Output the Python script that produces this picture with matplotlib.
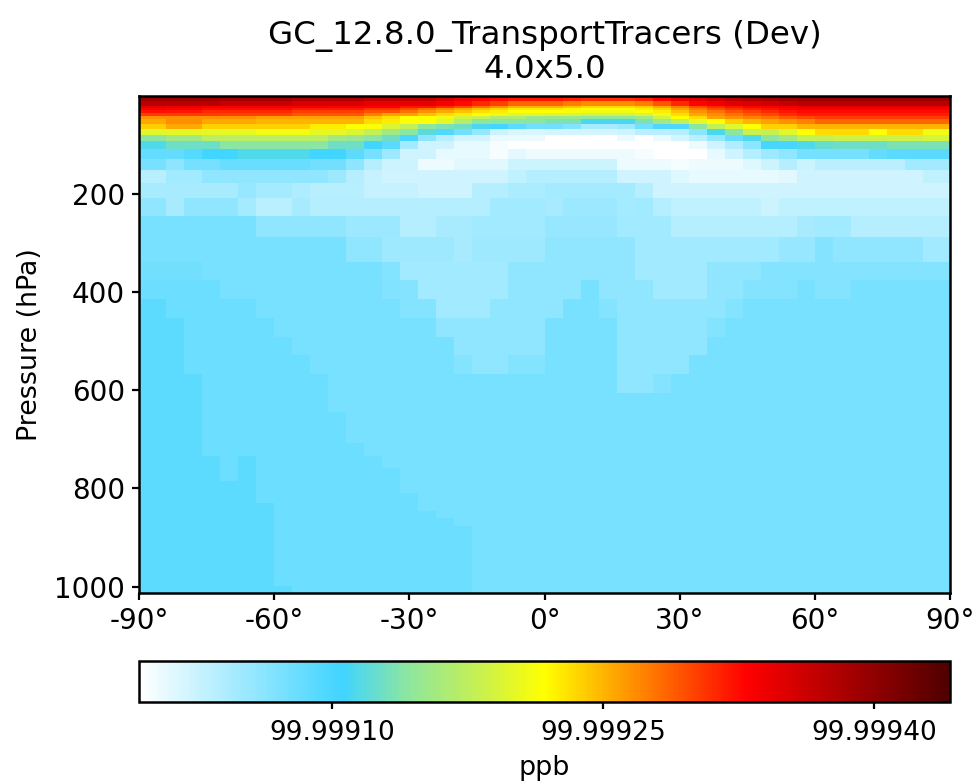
import numpy as np
import matplotlib
matplotlib.use("Agg")
import matplotlib.pyplot as plt
from matplotlib.colors import LinearSegmentedColormap
from matplotlib.ticker import FormatStrFormatter

# latitude cell edges, half cells at the poles
lat_edges = [-90, -88, -84, -80, -76, -72, -68, -64, -60, -56, -52, -48, -44, -40, -36, -32,
             -28, -24, -20, -16, -12, -8, -4, 0, 4, 8, 12, 16, 20, 24, 28, 32, 36, 40, 44, 48,
             52, 56, 60, 64, 68, 72, 76, 80, 84, 88, 90]

# pressure cell edges (hPa), top of the atmosphere first
p_edges = [0.01, 1.65, 4.07, 9.29, 19.79, 23.73, 28.37, 33.81, 40.18, 47.64, 56.39, 66.60,
           78.51, 92.37, 108.66, 127.84, 150.39, 176.93, 208.15, 244.88, 288.08, 337.50,
           376.0, 414.2, 452.4, 490.7, 528.9, 567.2, 605.4, 643.7, 682.0, 707.69, 733.15,
           758.62, 784.08, 809.55, 829.92, 845.21, 860.49, 875.77, 891.05, 906.34, 921.62,
           936.91, 952.19, 967.47, 982.76, 998.05, 1013.25]

# zonal mean, in 1e-6 ppb above 99.999, one list per pressure level
r01 = [405]*13 + [385]*4 + [360, 350, 342, 336] + [330]*9 + [340, 350, 362, 375, 385, 392, 398] + [410]*9
r02 = [400]*5 + [395]*4 + [390]*4 + [380]*4 + [360, 350, 340, 335] + [330]*3 + [328] + [326]*3 + [328, 338, 352, 368, 378, 385, 392, 396, 400] + [405]*9
r03 = [390]*5 + [385]*4 + [378]*4 + [368]*4 + [355, 342, 332, 326] + [320]*3 + [315] + [310]*3 + [315, 328, 340, 352, 362, 372, 378, 384, 388] + [392]*9
r04 = [375]*5 + [365]*4 + [355]*4 + [345]*4 + [335, 325, 312, 300] + [285]*3 + [275] + [268]*3 + [275, 292, 312, 328, 338, 348, 355, 362, 368] + [375]*9
r05 = [345]*2 + [340]*2 + [335]*7 + [330]*4 + [320]*2 + [310, 295, 280, 265] + [250]*3 + [243] + [235]*3 + [240, 255, 275, 295, 312, 322, 328, 333, 338] + [345]*9
r06 = [332]*2 + [330]*2 + [326]*5 + [318]*4 + [308]*2 + [298, 282, 270, 258, 247, 238] + [228]*3 + [222] + [218]*3 + [225, 238, 258, 278, 296, 308, 316, 322, 328] + [335]*9
r07 = [322]*2 + [320]*2 + [312]*5 + [303]*4 + [293]*2 + [280, 265, 255, 245, 232, 225] + [217]*3 + [212] + [207]*3 + [215, 225, 245, 265, 280, 293, 303, 312, 320] + [325]*9
r08 = [302]*5 + [300]*4 + [290]*4 + [272] + [258]*2 + [245, 232, 225, 217, 205] + [197]*2 + [193]*2 + [188]*3 + [193, 208, 232, 255, 268, 280, 290, 297, 310] + [316]*9
r09 = [265]*7 + [258]*6 + [245, 233, 217, 217, 208, 188, 182] + [165]*2 + [150]*3 + [145]*3 + [155, 188, 217, 233, 258, 265, 272, 280, 290, 297] + [303]*8
r10 = [256]*2 + [268]*2 + [255]*3 + [250]*6 + [232, 225] + [217]*2 + [200, 170] + [141]*4 + [135]*2 + [112]*3 + [135, 155, 178, 200, 217, 240, 250, 258, 265, 272] + [285]*8
r11 = [240]*2 + [255]*2 + [238]*6 + [226]*2 + [217, 215, 193, 178, 143, 135, 128, 112, 105, 88, 77, 77, 68] + [45]*2 + [52, 77] + [98]*2 + [141, 178, 197, 217] + [238]*2 + [250]*9
r12 = [197]*2 + [200]*5 + [210]*3 + [200]*2 + [193, 178, 155, 141, 118, 95, 77, 57, 25] + [16]*2 + [20]*4 + [22, 35, 35, 38, 62, 112, 141, 183, 180, 197, 217] + [233]*3 + [217] + [233]*2 + [208]*2
r13 = [141]*2 + [155]*2 + [173]*7 + [155, 150, 141, 128, 100, 60, 38] + [22]*2 + [7]*3 + [-7]*4 + [7, -7, 7, 20, 35, 57, 82, 114, 141, 155] + [178]*2 + [185]*5 + [192]*2
r14 = [114]*2 + [128]*3 + [141]*6 + [128]*2 + [105, 90, 49] + [22]*2 + [8]*2 + [-1] + [-7]*10 + [4, 22, 39, 62, 100, 100, 114, 124, 128, 128, 128, 135, 135, 135, 135]
r15 = [85]*3 + [93] + [105]*2 + [113]*4 + [105]*2 + [88, 75, 50] + [22]*2 + [8]*3 + [-1, 9] + [5]*6 + [0] + [-7]*3 + [8, 22, 37, 50, 58] + [75]*4 + [85] + [90]*4
r16 = [72]*2 + [60] + [74]*2 + [82]*5 + [77]*2 + [60, 37] + [24]*2 + [4]*2 + [12]*3 + [23]*6 + [5]*3 + [-1] + [5]*3 + [13, 23, 37, 25] + [34]*5 + [49]*3
r17 = [36]*2 + [48]*2 + [58]*7 + [52, 37, 28] + [22]*7 + [30, 37] + [37]*4 + [22]*3 + [13] + [8]*5 + [12] + [22]*7 + [30]*2
r18 = [44]*6 + [56] + [46]*2 + [41] + [36]*3 + [28]*3 + [22]*3 + [37]*2 + [43]*2 + [46]*5 + [37] + [22]*17
r19 = [58]*2 + [44] + [58]*3 + [46] + [34]*2 + [44] + [37]*10 + [49]*3 + [44] + [52]*3 + [46, 48, 37] + [30]*5 + [23] + [30]*10
r20 = [72]*7 + [58]*5 + [51]*3 + [37]*2 + [44]*2 + [49]*4 + [56]*4 + [49]*3 + [37]*7 + [44] + [49]*2 + [37]*6
r21 = [72]*12 + [58]*2 + [50]*4 + [44] + [50]*4 + [58]*5 + [49]*8 + [55]*2 + [66] + [58]*5 + [49]*2
r22 = [76]*4 + [72]*10 + [66] + [49]*6 + [58]*2 + [58]*5 + [49]*4 + [58]*3 + [66]*11
r23 = [80]*5 + [72]*9 + [67, 65] + [49]*5 + [58]*4 + [72] + [58]*3 + [49]*3 + [58]*2 + [66]*3 + [72] + [66]*2 + [72]*6
r24 = [88]*2 + [80]*5 + [72]*8 + [65]*2 + [49]*3 + [58]*4 + [72]*2 + [65] + [58]*6 + [65] + [72]*12
r25 = [88]*3 + [80]*5 + [72]*9 + [58]*6 + [72]*4 + [58]*5 + [65] + [72]*13
r26 = [88]*3 + [80]*6 + [72]*9 + [58]*5 + [72]*4 + [58]*5 + [72]*14
r27 = [88]*3 + [80]*7 + [72]*8 + [65] + [58]*2 + [65]*2 + [72]*4 + [58]*4 + [72]*15
r28 = [88]*4 + [80]*7 + [72]*16 + [58]*2 + [65] + [72]*16
r29 = [88]*4 + [80]*7 + [72]*35
r30 = [88]*4 + [80]*8 + [72]*34
r31 = [88]*4 + [80]*8 + [72]*34
r32 = [88]*4 + [80]*9 + [72]*33
r33 = [88]*5 + [80] + [88] + [80]*7 + [72]*32
r34 = [88]*5 + [80] + [88] + [80]*8 + [72]*31
r35 = [88]*7 + [80]*8 + [72]*31
r36 = [88]*7 + [80]*9 + [72]*30
r37 = [88]*8 + [80]*8 + [72]*30
r38 = [88]*8 + [80]*9 + [72]*29
r39 = [88]*8 + [80]*10 + [72]*28
r40 = [88]*8 + [80]*11 + [72]*27
r41 = [88]*8 + [80]*11 + [72]*27
r42 = [88]*8 + [80]*11 + [72]*27
r43 = [88]*8 + [80]*11 + [72]*27
r44 = [88]*8 + [80]*11 + [72]*27
r45 = [88]*8 + [80]*11 + [72]*27
r46 = [88]*8 + [80]*11 + [72]*27
r47 = [88]*8 + [80]*11 + [72]*27
r48 = [88]*9 + [80]*10 + [72]*27

levels = [r01, r02, r03, r04, r05, r06, r07, r08, r09, r10, r11, r12, r13, r14, r15, r16,
          r17, r18, r19, r20, r21, r22, r23, r24, r25, r26, r27, r28, r29, r30, r31, r32,
          r33, r34, r35, r36, r37, r38, r39, r40, r41, r42, r43, r44, r45, r46, r47, r48]

lat_ticks = [-90, -60, -30, 0, 30, 60, 90]
p_ticks = [200, 400, 600, 800, 1000]
cbar_ticks = [99.99910, 99.99925, 99.99940]

conc = 99.999 + np.array(levels) * 1e-6

cmap = LinearSegmentedColormap.from_list("WhBlGrYlRd", [
    (0.0, "#ffffff"), (0.25, "#40d4ff"), (0.33, "#8ce6a0"), (0.42, "#c8f050"),
    (0.5, "#ffff00"), (0.625, "#ff8000"), (0.75, "#ff0000"), (1.0, "#500000")])

W, H = 976, 783
fig = plt.figure(figsize=(W / 200, H / 200), dpi=200)
ax = fig.add_axes([139 / W, 1 - 593 / H, 811 / W, 497 / H])
mesh = ax.pcolormesh(lat_edges, p_edges, conc, cmap=cmap, vmin=99.998993, vmax=99.999442)
ax.set_ylim(1013.25, 0.01)
ax.set_xlim(-90, 90)
ax.set_xticks(lat_ticks)
ax.set_xticklabels([str(t) + "°" for t in lat_ticks])
ax.set_yticks(p_ticks)
ax.set_ylabel("Pressure (hPa)", fontsize=9.7, labelpad=4)
ax.tick_params(labelsize=10, width=0.8, length=2.6, pad=2.5)
ax.set_title("GC_12.8.0_TransportTracers (Dev)\n4.0x5.0", fontsize=11.7, pad=6.5, linespacing=1.1)
for s in ax.spines.values():
    s.set_linewidth(0.9)

cax = fig.add_axes([139 / W, 1 - 702 / H, 811 / W, 41 / H])
cb = fig.colorbar(mesh, cax=cax, orientation="horizontal")
cb.set_ticks(cbar_ticks)
cb.ax.xaxis.set_major_formatter(FormatStrFormatter("%.5f"))
cb.ax.tick_params(labelsize=9.5, width=0.8, length=2.6, pad=4)
cb.set_label("ppb", fontsize=9.7, labelpad=3)
cb.outline.set_linewidth(0.9)

fig.savefig("out.png", dpi=200)
